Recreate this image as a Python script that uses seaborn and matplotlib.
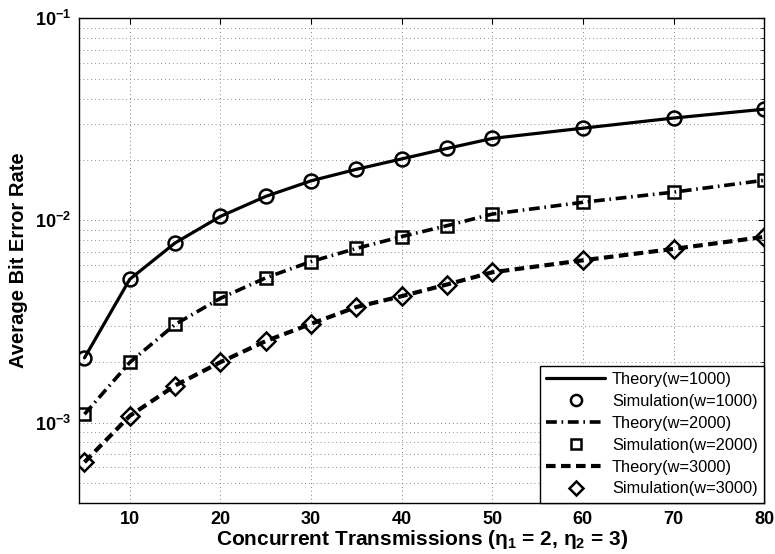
import numpy as np
import pandas as pd
import matplotlib
matplotlib.use("Agg")
import matplotlib.pyplot as plt
from matplotlib.ticker import FixedLocator, FixedFormatter, LogLocator, NullFormatter
import seaborn as sns

# Number of concurrent transmissions
transmissions = [5, 10, 15, 20, 25, 30, 35, 40, 45, 50, 60, 70, 80]

# Average bit error rate for each window size
ber_w1000 = [2.09e-3, 5.12e-3, 7.74e-3, 1.047e-2, 1.315e-2, 1.57e-2, 1.79e-2,
             2.015e-2, 2.27e-2, 2.545e-2, 2.86e-2, 3.21e-2, 3.55e-2]
ber_w2000 = [1.10e-3, 1.985e-3, 3.06e-3, 4.12e-3, 5.20e-3, 6.26e-3, 7.27e-3,
             8.32e-3, 9.42e-3, 1.075e-2, 1.23e-2, 1.38e-2, 1.58e-2]
ber_w3000 = [6.37e-4, 1.08e-3, 1.525e-3, 1.99e-3, 2.53e-3, 3.08e-3, 3.73e-3,
             4.22e-3, 4.82e-3, 5.54e-3, 6.35e-3, 7.23e-3, 8.29e-3]

series_names = ["w=1000", "w=2000", "w=3000"]
series_values = [ber_w1000, ber_w2000, ber_w3000]
line_styles = ["-", (0, (3.0, 1.3, 0.45, 1.3)), (0, (2.3, 1.3))]
line_widths = [2.3, 2.6, 3.0]
marker_shapes = ["o", "s", "D"]
marker_sizes = [10, 9, 9.5]

ytick_values = [1e-3, 1e-2, 1e-1]
ytick_labels = [r"$\mathbf{10^{-3}}$", r"$\mathbf{10^{-2}}$", r"$\mathbf{10^{-1}}$"]
xtick_values = [10, 20, 30, 40, 50, 60, 70, 80]

sns.set_theme(style="white")
plt.rcParams["font.family"] = ["Liberation Sans", "DejaVu Sans"]
plt.rcParams["mathtext.fontset"] = "custom"
plt.rcParams["mathtext.rm"] = "Liberation Sans"
plt.rcParams["mathtext.bf"] = "Liberation Sans:bold"
plt.rcParams["mathtext.it"] = "Liberation Sans:italic"
plt.rcParams["text.color"] = "black"
plt.rcParams["axes.labelcolor"] = "black"
plt.rcParams["xtick.color"] = "black"
plt.rcParams["ytick.color"] = "black"

fig = plt.figure(figsize=(7.75, 5.54), dpi=100)
ax = fig.add_axes([0.102, 0.092, 0.884, 0.875])

for name, vals, ls, lw, mk, ms in zip(series_names, series_values, line_styles,
                                      line_widths, marker_shapes, marker_sizes):
    df = pd.DataFrame({"n": transmissions, "ber": vals})
    sns.lineplot(data=df, x="n", y="ber", ax=ax, color="black",
                 linestyle=ls, linewidth=lw, label=f"Theory({name})")
    sns.lineplot(data=df, x="n", y="ber", ax=ax, color="black",
                 linestyle="", marker=mk, markersize=ms,
                 markerfacecolor="none", markeredgecolor="black",
                 markeredgewidth=1.8, label=f"Simulation({name})")

ax.set_yscale("log")
ax.set_xlim(4.4, 80)
ax.set_ylim(4e-4, 1e-1)

ax.xaxis.set_major_locator(FixedLocator(xtick_values))
ax.yaxis.set_major_locator(FixedLocator(ytick_values))
ax.yaxis.set_major_formatter(FixedFormatter(ytick_labels))
ax.yaxis.set_minor_locator(LogLocator(base=10, subs=np.arange(2, 10)))
ax.yaxis.set_minor_formatter(NullFormatter())

ax.grid(True, which="major", axis="both", linestyle=(0, (1, 3)),
        color="0.5", linewidth=0.7)
ax.grid(True, which="minor", axis="y", linestyle=(0, (1, 3)),
        color="0.55", linewidth=0.7)

ax.tick_params(axis="both", which="both", direction="in", top=True, right=True,
               colors="black")
ax.tick_params(axis="both", which="major", length=4.5, width=0.8, pad=6)
ax.tick_params(axis="x", which="major", labelsize=13)
ax.tick_params(axis="y", which="major", labelsize=13)
ax.tick_params(axis="y", which="minor", length=2.5, width=0.6)
for lab in ax.get_xticklabels():
    lab.set_fontweight("bold")

for sp in ax.spines.values():
    sp.set_color("black")
    sp.set_linewidth(1.0)

ax.set_xlabel(r"Concurrent Transmissions ($\mathregular{\eta_1}$ = 2, $\mathregular{\eta_2}$ = 3)",
              fontsize=15, fontweight="bold", labelpad=0)
ax.set_ylabel("Average Bit Error Rate", fontsize=14.5, fontweight="bold", labelpad=5)

leg = ax.legend(loc="lower right", fontsize=11.8, frameon=True, fancybox=False,
                framealpha=1, edgecolor="black", borderaxespad=0.0,
                handlelength=3.6, handletextpad=0.4, labelspacing=0.42,
                numpoints=1, markerscale=0.8, borderpad=0.4)
leg.get_frame().set_linewidth(1.0)

fig.savefig("out.png", dpi=100)
